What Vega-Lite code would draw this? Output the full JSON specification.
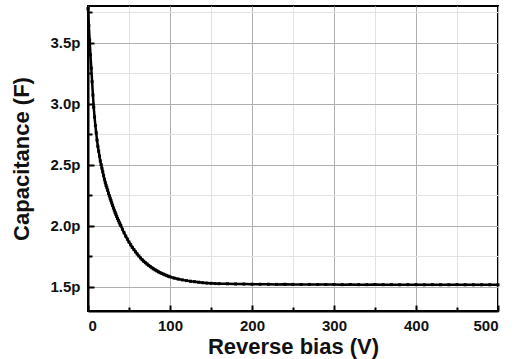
{
  "$schema": "https://vega.github.io/schema/vega-lite/v6.json",
  "width": 410,
  "height": 305,
  "autosize": "none",
  "padding": {"left": 88, "top": 6, "right": 17, "bottom": 48},
  "background": "white",
  "config": {
    "view": {"stroke": "black", "strokeWidth": 2},
    "font": "Liberation Sans"
  },
  "data": {
    "values": [
      {"v": 0, "c": 3.78}, {"v": 1, "c": 3.64}, {"v": 2, "c": 3.52}, {"v": 3, "c": 3.40},
      {"v": 4, "c": 3.29}, {"v": 5, "c": 3.18}, {"v": 6, "c": 3.07}, {"v": 7, "c": 2.97},
      {"v": 8, "c": 2.89}, {"v": 9, "c": 2.82}, {"v": 10, "c": 2.76}, {"v": 11, "c": 2.70},
      {"v": 12, "c": 2.65}, {"v": 13, "c": 2.61}, {"v": 14, "c": 2.57}, {"v": 15, "c": 2.53},
      {"v": 16, "c": 2.50}, {"v": 17, "c": 2.47}, {"v": 18, "c": 2.44}, {"v": 19, "c": 2.41},
      {"v": 20, "c": 2.38}, {"v": 21, "c": 2.355}, {"v": 22, "c": 2.33}, {"v": 23, "c": 2.31},
      {"v": 24, "c": 2.29}, {"v": 25, "c": 2.265}, {"v": 26, "c": 2.245}, {"v": 27, "c": 2.225},
      {"v": 28, "c": 2.205}, {"v": 29, "c": 2.185}, {"v": 30, "c": 2.165}, {"v": 31, "c": 2.145},
      {"v": 32, "c": 2.127}, {"v": 33, "c": 2.109}, {"v": 34, "c": 2.092}, {"v": 35, "c": 2.075},
      {"v": 36, "c": 2.059}, {"v": 37, "c": 2.043}, {"v": 38, "c": 2.028}, {"v": 39, "c": 2.013},
      {"v": 40, "c": 2.0}, {"v": 42, "c": 1.970}, {"v": 44, "c": 1.941}, {"v": 46, "c": 1.914},
      {"v": 48, "c": 1.889}, {"v": 50, "c": 1.865}, {"v": 52, "c": 1.843}, {"v": 54, "c": 1.822},
      {"v": 56, "c": 1.803}, {"v": 58, "c": 1.785}, {"v": 60, "c": 1.767}, {"v": 62, "c": 1.751},
      {"v": 64, "c": 1.735}, {"v": 66, "c": 1.721}, {"v": 68, "c": 1.708}, {"v": 70, "c": 1.696},
      {"v": 72, "c": 1.685}, {"v": 74, "c": 1.674}, {"v": 76, "c": 1.664}, {"v": 78, "c": 1.654},
      {"v": 80, "c": 1.645}, {"v": 82, "c": 1.637}, {"v": 84, "c": 1.629}, {"v": 86, "c": 1.621},
      {"v": 88, "c": 1.614}, {"v": 90, "c": 1.608}, {"v": 92, "c": 1.602}, {"v": 94, "c": 1.596},
      {"v": 96, "c": 1.590}, {"v": 98, "c": 1.585}, {"v": 100, "c": 1.580}, {"v": 105, "c": 1.570},
      {"v": 110, "c": 1.562}, {"v": 115, "c": 1.555}, {"v": 120, "c": 1.549}, {"v": 125, "c": 1.544},
      {"v": 130, "c": 1.540}, {"v": 135, "c": 1.536}, {"v": 140, "c": 1.532}, {"v": 145, "c": 1.529},
      {"v": 150, "c": 1.527}, {"v": 155, "c": 1.525}, {"v": 160, "c": 1.524}, {"v": 170, "c": 1.523},
      {"v": 180, "c": 1.522}, {"v": 190, "c": 1.521}, {"v": 200, "c": 1.520}, {"v": 210, "c": 1.519},
      {"v": 220, "c": 1.519}, {"v": 230, "c": 1.518}, {"v": 240, "c": 1.519}, {"v": 250, "c": 1.518},
      {"v": 260, "c": 1.517}, {"v": 270, "c": 1.518}, {"v": 280, "c": 1.517}, {"v": 290, "c": 1.517},
      {"v": 300, "c": 1.517}, {"v": 310, "c": 1.516}, {"v": 320, "c": 1.517}, {"v": 330, "c": 1.516},
      {"v": 340, "c": 1.516}, {"v": 350, "c": 1.517}, {"v": 360, "c": 1.516}, {"v": 370, "c": 1.516},
      {"v": 380, "c": 1.515}, {"v": 390, "c": 1.516}, {"v": 400, "c": 1.516}, {"v": 410, "c": 1.515},
      {"v": 420, "c": 1.516}, {"v": 430, "c": 1.515}, {"v": 440, "c": 1.515}, {"v": 450, "c": 1.516},
      {"v": 460, "c": 1.515}, {"v": 470, "c": 1.515}, {"v": 480, "c": 1.515}, {"v": 490, "c": 1.515},
      {"v": 500, "c": 1.515}
    ]
  },
  "encoding": {
    "x": {
      "field": "v", "type": "quantitative",
      "scale": {"domain": [0, 500], "nice": false, "zero": false},
      "axis": {
        "title": "Reverse bias (V)",
        "values": [0, 50, 100, 150, 200, 250, 300, 350, 400, 450, 500],
        "labelExpr": "datum.value % 100 == 0 ? datum.label : ''",
        "format": "d",
        "domainColor": "black", "domainWidth": 2,
        "tickColor": "black", "tickWidth": 2,
        "tickSize": {"condition": {"test": "datum.value % 100 == 0", "value": -6}, "value": -4},
        "gridColor": {"condition": {"test": "datum.value % 100 == 0", "value": "#b0b0b0"}, "value": "#e2e2e2"},
        "gridWidth": 1,
        "labelFontSize": 15, "labelFontWeight": "bold", "labelColor": "#111",
        "labelPadding": 13,
        "titleFontSize": 22, "titleFontWeight": "bold", "titleColor": "#111",
        "titlePadding": 3
      }
    },
    "y": {
      "field": "c", "type": "quantitative",
      "scale": {"domain": [1.3, 3.8], "nice": false, "zero": false},
      "axis": {
        "title": "Capacitance (F)",
        "values": [1.5, 1.75, 2.0, 2.25, 2.5, 2.75, 3.0, 3.25, 3.5, 3.75],
        "labelExpr": "abs(datum.value * 2 - round(datum.value * 2)) < 0.01 ? format(datum.value, '.1f') + 'p' : ''",
        "domainColor": "black", "domainWidth": 2,
        "tickColor": "black", "tickWidth": 2,
        "tickSize": {"condition": {"test": "abs(datum.value * 2 - round(datum.value * 2)) < 0.01", "value": -6}, "value": -4},
        "gridColor": {"condition": {"test": "abs(datum.value * 2 - round(datum.value * 2)) < 0.01", "value": "#b0b0b0"}, "value": "#e2e2e2"},
        "gridWidth": 1,
        "labelFontSize": 15, "labelFontWeight": "bold", "labelColor": "#111",
        "labelPadding": 14,
        "titleFontSize": 22, "titleFontWeight": "bold", "titleColor": "#111",
        "titlePadding": 16
      }
    }
  },
  "layer": [
    {"mark": {"type": "line", "color": "black", "strokeWidth": 2.5}},
    {"mark": {"type": "point", "shape": "square", "filled": true, "color": "black", "size": 9, "opacity": 1}}
  ]
}
